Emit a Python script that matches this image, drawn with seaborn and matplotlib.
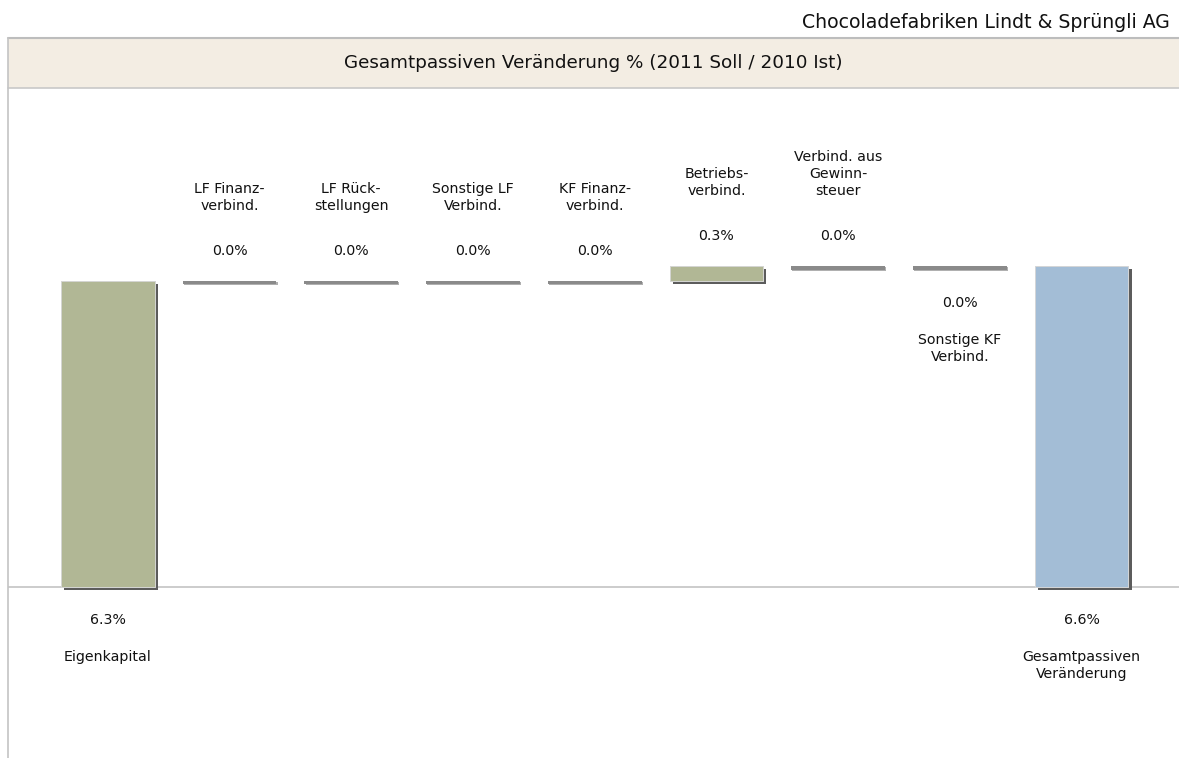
import numpy as np
import pandas as pd
import seaborn as sns
import matplotlib.pyplot as plt
import matplotlib.patheffects as pe
from matplotlib.patches import Rectangle
from matplotlib.lines import Line2D

# data
categories = ["Eigenkapital", "LF Finanz-\nverbind.", "LF Rück-\nstellungen", "Sonstige LF\nVerbind.",
              "KF Finanz-\nverbind.", "Betriebs-\nverbind.", "Verbind. aus\nGewinn-\nsteuer",
              "Sonstige KF\nVerbind.", "Gesamtpassiven\nVeränderung"]
values = [6.3, 0.0, 0.0, 0.0, 0.0, 0.3, 0.0, 0.0, 6.6]
is_total = [False, False, False, False, False, False, False, False, True]
label_side = ["below", "above", "above", "above", "above", "above", "above", "below", "below"]

title = "Gesamtpassiven Veränderung % (2011 Soll / 2010 Ist)"
company = "Chocoladefabriken Lindt & Sprüngli AG"

# waterfall bottoms
bottoms, heights, colors, zero = [], [], [], []
running = 0.0
for v, tot in zip(values, is_total):
    if tot:
        bottoms.append(0.0)
        heights.append(v)
        colors.append("#a3bdd6")
        zero.append(False)
        running = v
    elif abs(v) < 0.05:
        bottoms.append(running)
        heights.append(-0.07)  # thin line for zero change
        colors.append("#8a8a8a")
        zero.append(True)
    else:
        bottoms.append(running)
        heights.append(v)
        colors.append("#b1b795")
        zero.append(False)
        running += v

df = pd.DataFrame({"cat": categories, "height": heights})

sns.set_theme(style="white")
plt.rcParams["font.family"] = ["DejaVu Sans"]

fig = plt.figure(figsize=(11.79, 7.58), dpi=100)
W, H = 1179, 758
ax = fig.add_axes([8 / W, 0, (W - 8) / W, (H - 88) / H])

sns.barplot(data=df, x="cat", y="height", hue="cat", palette=colors, legend=False,
            width=0.77, saturation=1, ax=ax, order=categories, hue_order=categories)

for p in ax.patches:
    i = int(round(p.get_x() + p.get_width() / 2))
    p.set_y(bottoms[i])
    p.set_height(heights[i])
    if zero[i]:
        p.set_edgecolor("none")
        p.set_path_effects([pe.withSimplePatchShadow(offset=(0.8, -0.8), shadow_rgbFace="#b0b0b0", alpha=1.0),
                            pe.Normal()])
    else:
        p.set_edgecolor("#d8d8d8")
        p.set_linewidth(0.6)
        p.set_path_effects([pe.withSimplePatchShadow(offset=(2.2, -2.2), shadow_rgbFace="#5c5c5c", alpha=1.0),
                            pe.Normal()])

ax.axhline(0, color="#c4c4c4", lw=1.2, zorder=0)
ax.set_xlim(-0.82, 8.80)
ax.set_ylim(-3.52, 10.27)
ax.set_xticks([])
ax.set_yticks([])
ax.set_xlabel("")
ax.set_ylabel("")
for s in ax.spines.values():
    s.set_visible(False)

px = 0.72  # points per pixel
fs = 10.2
for i, (cat, v) in enumerate(zip(categories, values)):
    top = max(bottoms[i], bottoms[i] + heights[i])
    low = min(bottoms[i], bottoms[i] + heights[i])
    txt = f"{v:.1f}%"
    if label_side[i] == "above":
        ax.annotate(txt, (i, top), xytext=(0, 30 * px), textcoords="offset points",
                    ha="center", va="center", fontsize=fs, color="#111111")
        ax.annotate(cat, (i, top), xytext=(0, 68 * px), textcoords="offset points",
                    ha="center", va="bottom", fontsize=fs, color="#111111", linespacing=1.3)
    else:
        ax.annotate(txt, (i, low), xytext=(0, -33 * px), textcoords="offset points",
                    ha="center", va="center", fontsize=fs, color="#111111")
        ax.annotate(cat, (i, low), xytext=(0, -63 * px), textcoords="offset points",
                    ha="center", va="top", fontsize=fs, color="#111111", linespacing=1.3)

# title band and frame
fig.patches.append(Rectangle((8 / W, 1 - 88 / H), (W - 8) / W, 50 / H, transform=fig.transFigure,
                             facecolor="#f3ede3", edgecolor="none", zorder=0))
fig.lines.append(Line2D([8 / W, 1], [1 - 38 / H] * 2, transform=fig.transFigure, color="#bdbdbd", lw=1.5))
fig.lines.append(Line2D([8 / W, 1], [1 - 88 / H] * 2, transform=fig.transFigure, color="#c8c8c8", lw=1.2))
fig.lines.append(Line2D([8 / W] * 2, [0, 1 - 38 / H], transform=fig.transFigure, color="#c4c4c4", lw=1.2))

fig.text(0.5 * (1 + 8 / W), 1 - 63 / H, title, ha="center", va="center", fontsize=13.2,
         color="#111111")
fig.text(1 - 9 / W, 1 - 22 / H, company, ha="right", va="center", fontsize=13.6,
         color="#111111")

fig.savefig("out.png", dpi=100)
